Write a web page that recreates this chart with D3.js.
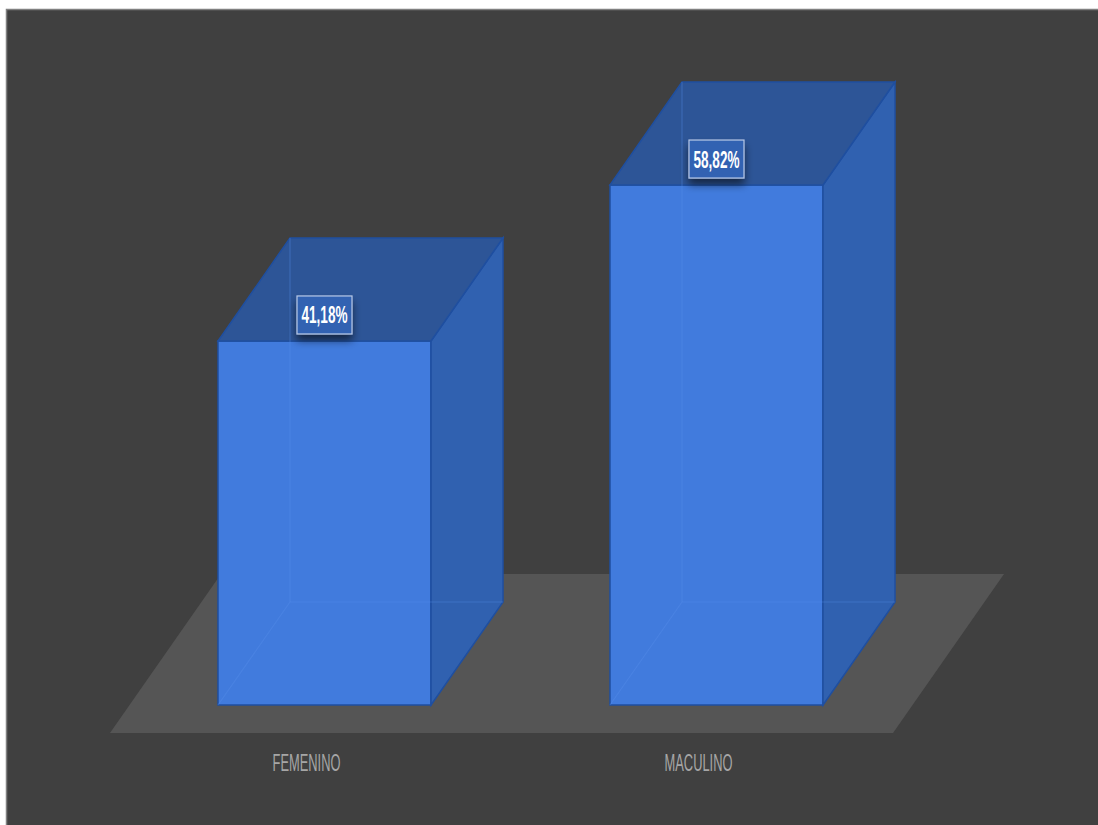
<!DOCTYPE html>
<html>
<head>
<meta charset="utf-8">
<script src="https://cdn.jsdelivr.net/npm/d3@7"></script>
<style>
  html, body { margin: 0; padding: 0; background: #ffffff; }
  svg { display: block; }
</style>
</head>
<body>
<script>
// ---- data ----
const categories = ["FEMENINO", "MACULINO"];
const values = [41.18, 58.82];
const valueLabels = ["41,18%", "58,82%"];

// ---- layout ----
const W = 1098, H = 825;
const depthX = 72, depthY = -103;

const svg = d3.select("body").append("svg").attr("width", W).attr("height", H);

// chart area
svg.append("rect")
  .attr("x", 6.5).attr("y", 9.5)
  .attr("width", W).attr("height", H)
  .attr("fill", "#404040")
  .attr("stroke", "#808080").attr("stroke-width", 1.5);

const x = d3.scaleBand().domain(categories).range([22, 1019])
  .paddingInner(0.4566).paddingOuter(0.5);
const y = d3.scaleLinear().domain([0, 60]).range([705, 705 - 60 * 8.84]);

// floor
const floorFront = y(0) + 28, floorBack = y(0) - 131;
const floorPts = [[110, floorFront], [893, floorFront], [1004, floorBack], [221, floorBack]];
svg.append("polygon")
  .attr("points", floorPts.map(p => p.join(",")).join(" "))
  .attr("fill", "#555555");

const defs = svg.append("defs");
const f = defs.append("filter").attr("id", "shadow")
  .attr("x", "-30%").attr("y", "-30%").attr("width", "160%").attr("height", "190%");
f.append("feGaussianBlur").attr("in", "SourceAlpha").attr("stdDeviation", 4);
f.append("feOffset").attr("dx", 0).attr("dy", 6).attr("result", "b");
f.append("feComponentTransfer").append("feFuncA").attr("type", "linear").attr("slope", 0.55);
const fm = f.append("feMerge");
fm.append("feMergeNode");
fm.append("feMergeNode").attr("in", "SourceGraphic");

const edge = "#1f4fa0";
const bars = svg.selectAll("g.bar").data(categories).enter().append("g").attr("class", "bar");

bars.each(function(c, i) {
  const g = d3.select(this);
  const x0 = x(c), x1 = x(c) + x.bandwidth();
  const yt = y(values[i]), yb = y(0);
  const pts = a => a.map(p => p.join(",")).join(" ");
  // front face
  g.append("polygon").attr("points", pts([[x0, yt], [x1, yt], [x1, yb], [x0, yb]]))
    .attr("fill", "#417bdd").attr("stroke", edge).attr("stroke-width", 1.5);
  // side face
  g.append("polygon").attr("points", pts([[x1, yt], [x1 + depthX, yt + depthY], [x1 + depthX, yb + depthY], [x1, yb]]))
    .attr("fill", "#3061b0").attr("stroke", edge).attr("stroke-width", 1.5);
  // top face
  g.append("polygon").attr("points", pts([[x0, yt], [x1, yt], [x1 + depthX, yt + depthY], [x0 + depthX, yt + depthY]]))
    .attr("fill", "#2d5597").attr("stroke", edge).attr("stroke-width", 1.5);
  // hidden edges seen through
  const hid = g.append("g").attr("stroke", "#5a8eea").attr("stroke-opacity", 0.35).attr("stroke-width", 1.2).attr("fill", "none");
  hid.append("line").attr("x1", x0 + depthX).attr("y1", yt + depthY).attr("x2", x0 + depthX).attr("y2", yb + depthY);
  hid.append("line").attr("x1", x0 + depthX).attr("y1", yb + depthY).attr("x2", x1 + depthX).attr("y2", yb + depthY);
  hid.append("line").attr("x1", x0).attr("y1", yb).attr("x2", x0 + depthX).attr("y2", yb + depthY);

  // value label
  const cx = x0 + x.bandwidth() / 2, cy = yt - 26;
  const lg = g.append("g").attr("transform", `translate(${cx},${cy})`);
  lg.append("rect").attr("x", -27.5).attr("y", -19).attr("width", 55).attr("height", 38)
    .attr("fill", "#3262b2").attr("stroke", "#b8c8e6").attr("stroke-width", 1.2)
    .attr("filter", "url(#shadow)");
  lg.append("text").attr("transform", "scale(0.565,1)")
    .attr("text-anchor", "middle").attr("y", 8.5)
    .attr("font-family", "'Liberation Sans', Arial, sans-serif")
    .attr("font-weight", "bold").attr("font-size", 24)
    .attr("fill", "#ffffff").text(valueLabels[i]);

  // category label
  g.append("text")
    .attr("transform", `translate(${cx - 18},${floorFront + 38}) scale(0.56,1)`)
    .attr("text-anchor", "middle")
    .attr("font-family", "'Liberation Sans', Arial, sans-serif")
    .attr("font-size", 23).attr("fill", "#a6a6a6").text(c);
});
</script>
</body>
</html>
